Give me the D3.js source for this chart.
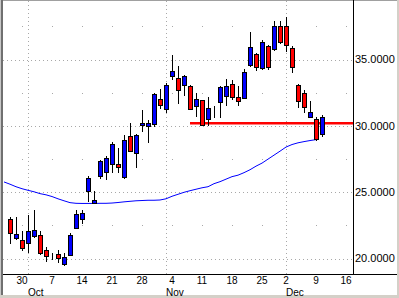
<!DOCTYPE html>
<html>
<head>
<meta charset="utf-8">
<script src="https://cdn.jsdelivr.net/npm/d3@7/dist/d3.min.js"></script>
<style>
  html, body { margin: 0; padding: 0; background: #fff; }
  svg { display: block; }
  text { font-family: "Liberation Sans", Arial, sans-serif; font-size: 11px; fill: #000; }
  text.xlab, text.mlab { font-size: 10px; }
</style>
</head>
<body>
<svg id="chart" width="399" height="298"></svg>
<script>
// daily bars, Sep 26 - Dec 10 2002
var dates = ["2002-09-26","2002-09-27","2002-09-30","2002-10-01","2002-10-02","2002-10-03","2002-10-04",
  "2002-10-07","2002-10-08","2002-10-09","2002-10-10","2002-10-11","2002-10-14","2002-10-15","2002-10-16",
  "2002-10-17","2002-10-18","2002-10-21","2002-10-22","2002-10-23","2002-10-24","2002-10-25","2002-10-28",
  "2002-10-29","2002-10-30","2002-10-31","2002-11-01","2002-11-04","2002-11-05","2002-11-06","2002-11-07",
  "2002-11-08","2002-11-11","2002-11-12","2002-11-13","2002-11-14","2002-11-15","2002-11-18","2002-11-19",
  "2002-11-20","2002-11-21","2002-11-22","2002-11-25","2002-11-26","2002-11-27","2002-11-29","2002-12-02",
  "2002-12-03","2002-12-04","2002-12-05","2002-12-06","2002-12-09","2002-12-10"];
var open  = [22.95,21.57,21.41,21.16,21.66,21.79,20.66,20.13,20.35,19.55,20.30,22.32,22.95,25.09,24.21,
  26.23,26.53,27.11,27.16,26.15,29.23,27.97,30.04,30.01,30.14,32.03,31.25,33.79,33.59,33.07,33.04,
  31.50,31.95,30.49,30.95,31.83,32.28,33.14,32.16,32.09,34.55,35.43,34.35,36.04,35.81,37.50,37.55,
  35.86,33.09,32.46,30.64,30.51,29.38];
var high  = [23.10,23.10,22.04,23.31,23.63,22.04,20.85,20.40,20.61,20.40,21.94,23.63,23.63,26.20,25.07,
  27.39,27.74,28.75,28.34,29.30,30.23,29.38,31.20,30.44,32.50,32.78,33.21,35.36,34.52,33.84,33.06,
  32.46,31.98,32.16,31.50,33.01,33.54,33.46,33.01,34.27,37.07,35.48,36.49,36.11,37.93,37.88,38.21,
  35.99,33.12,32.71,31.90,30.64,30.82];
var low   = [21.06,21.36,20.55,20.40,21.51,20.30,19.77,19.85,19.67,19.47,20.23,22.25,22.57,24.26,24.16,
  25.98,25.90,26.48,26.45,25.98,28.00,26.83,29.55,28.70,29.93,31.25,30.99,33.42,31.65,32.25,31.20,
  30.69,29.98,29.98,30.57,30.57,31.50,31.95,31.50,32.01,34.47,34.17,34.22,34.22,35.61,36.19,35.53,
  34.02,31.32,30.99,30.60,28.87,29.18];
var close = [21.89,21.87,20.80,22.04,22.12,20.43,20.20,20.13,20.02,20.15,21.74,23.38,23.43,26.10,24.44,
  27.32,27.54,28.62,26.86,28.93,28.12,29.30,30.19,30.19,32.41,31.60,33.09,34.15,32.71,33.72,31.25,
  32.01,30.04,31.35,30.95,32.94,33.01,32.21,31.86,34.05,35.94,34.42,36.31,34.40,37.50,36.29,36.07,
  34.42,31.88,31.40,31.02,28.98,30.69];

// moving average, Sep 25 - Dec 9
var maStart = "2002-09-25";
var maValues = [25.77,25.60,25.41,25.26,25.14,25.03,24.89,24.80,24.67,24.50,24.35,24.21,24.16,24.15,
  24.15,24.15,24.16,24.16,24.18,24.22,24.27,24.31,24.35,24.37,24.39,24.39,24.41,24.50,24.69,24.84,
  24.99,25.11,25.22,25.33,25.41,25.64,25.79,25.98,26.17,26.28,26.47,26.69,26.96,27.19,27.49,27.79,
  28.09,28.40,28.59,28.72,28.81,28.89,28.96];

var supportLevel = 30.2;
var supportFrom = "2002-11-07";

var tickDates = ["2002-09-30","2002-10-07","2002-10-14","2002-10-21","2002-10-28","2002-11-04",
  "2002-11-11","2002-11-18","2002-11-25","2002-12-02","2002-12-09","2002-12-16"];
var tickLabels = ["30","7","14","21","28","4","11","18","25","2","9","16"];
var monthDates = ["2002-10-01","2002-11-01","2002-12-02"];
var monthLabels = ["Oct","Nov","Dec"];
var priceTicks = [20, 25, 30, 35];
var halfTicks = [22.5, 27.5, 32.5, 37.5];
var holidays = ["2002-11-28"];

var svg = d3.select("#chart");
var W = 399, H = 298;
var plotL = 3, plotR = 353, plotT = 1, plotB = 274;

// trading calendar -> index (Sep 30 = 0)
var fmt = d3.utcFormat("%Y-%m-%d");
var calendar = d3.utcDay.range(new Date("2002-09-20"), new Date("2002-12-20"))
  .filter(function (d) { return d.getUTCDay() !== 0 && d.getUTCDay() !== 6 && holidays.indexOf(fmt(d)) < 0; })
  .map(fmt);
var base = calendar.indexOf("2002-09-30");
function idx(s) { return calendar.indexOf(s) - base; }

var x = d3.scaleLinear().domain([0, 50]).range([22, 322]);
var y = d3.scaleLinear().domain([20, 35]).range([258.5, 59.5]);
function px(s) { return Math.round(x(idx(s))); }
function py(v) { return Math.round(y(v)); }

// frame
svg.append("rect").attr("x", 0).attr("y", 0).attr("width", W).attr("height", H).attr("fill", "#fff");
svg.append("rect").attr("x", 0).attr("y", 0).attr("width", W).attr("height", 1).attr("fill", "#a0a0a0");
svg.append("rect").attr("x", 0).attr("y", 0).attr("width", 1).attr("height", H).attr("fill", "#c8c8c8");
svg.append("rect").attr("x", 1).attr("y", 0).attr("width", 2).attr("height", H).attr("fill", "#707070");
svg.append("rect").attr("x", W - 2).attr("y", 0).attr("width", 2).attr("height", H).attr("fill", "#d4d0c8");
svg.append("rect").attr("x", 0).attr("y", H - 3).attr("width", W).attr("height", 3).attr("fill", "#d4d0c8");

var plot = svg.append("g");

// grid: dotted major levels and month lines, dots at weekly x for half levels
plot.selectAll(".hgrid").data(priceTicks).enter().append("line")
  .attr("x1", plotL).attr("x2", plotR)
  .attr("y1", function (d) { return py(d) + 0.5; }).attr("y2", function (d) { return py(d) + 0.5; })
  .attr("stroke", "#a8a8a8").attr("stroke-dasharray", "1,3");
plot.selectAll(".vgrid").data(monthDates).enter().append("line")
  .attr("x1", function (d) { return px(d) + 0.5; }).attr("x2", function (d) { return px(d) + 0.5; })
  .attr("y1", plotT).attr("y2", plotB)
  .attr("stroke", "#a8a8a8").attr("stroke-dasharray", "1,3");
var dots = [];
halfTicks.forEach(function (v) {
  tickDates.forEach(function (t) { dots.push({ x: px(t), y: py(v) }); });
});
plot.selectAll(".gdot").data(dots).enter().append("rect")
  .attr("x", function (d) { return d.x; }).attr("y", function (d) { return d.y; })
  .attr("width", 1).attr("height", 1).attr("fill", "#a8a8a8");

// moving average
var maBase = idx(maStart);
var maLine = d3.line()
  .x(function (d, i) { return x(maBase + i); })
  .y(function (d) { return y(d); });
svg.append("clipPath").attr("id", "clip").append("rect")
  .attr("x", plotL).attr("y", plotT).attr("width", plotR - plotL).attr("height", plotB - plotT);
plot.append("path").datum(maValues)
  .attr("clip-path", "url(#clip)")
  .attr("d", maLine).attr("fill", "none").attr("stroke", "#0000ff").attr("stroke-width", 1);

// support line
plot.append("line")
  .attr("x1", px(supportFrom)).attr("x2", plotR)
  .attr("y1", y(supportLevel)).attr("y2", y(supportLevel))
  .attr("stroke", "#ff0000").attr("stroke-width", 2.5);

// candles
var bars = dates.map(function (d, i) {
  return { date: d, o: open[i], h: high[i], l: low[i], c: close[i] };
});
var candle = plot.selectAll(".candle").data(bars).enter().append("g").attr("class", "candle");
candle.append("line")
  .attr("x1", function (d) { return px(d.date) + 0.5; }).attr("x2", function (d) { return px(d.date) + 0.5; })
  .attr("y1", function (d) { return py(d.h); }).attr("y2", function (d) { return py(d.l); })
  .attr("stroke", "#000").attr("stroke-width", 1);
candle.append("rect")
  .attr("x", function (d) { return px(d.date) - 1.5; })
  .attr("y", function (d) { return py(Math.max(d.o, d.c)) + 0.5; })
  .attr("width", 4)
  .attr("height", function (d) { return Math.max(0, py(Math.min(d.o, d.c)) - py(Math.max(d.o, d.c))); })
  .attr("fill", function (d) { return d.c >= d.o ? "#0000ff" : "#ff0000"; })
  .attr("stroke", "#000").attr("stroke-width", 1);

// axes lines
svg.append("line").attr("x1", plotR + 0.5).attr("x2", plotR + 0.5).attr("y1", 0).attr("y2", plotB)
  .attr("stroke", "#000");
svg.append("line").attr("x1", plotL).attr("x2", W - 2).attr("y1", plotB + 0.5).attr("y2", plotB + 0.5)
  .attr("stroke", "#000");

// price labels
svg.selectAll(".ylab").data(priceTicks).enter().append("text")
  .attr("class", "ylab")
  .attr("x", plotR + 2).attr("y", function (d) { return y(d); })
  .attr("dy", "0.36em")
  .text(function (d) { return d3.format(".4f")(d); });

// day labels
svg.selectAll(".xlab").data(tickDates).enter().append("text")
  .attr("class", "xlab")
  .attr("x", function (d) { return px(d); }).attr("y", 284)
  .attr("text-anchor", "middle")
  .text(function (d, i) { return tickLabels[i]; });
svg.selectAll(".mlab").data(monthDates).enter().append("text")
  .attr("class", "mlab")
  .attr("x", function (d) { return px(d); }).attr("y", 295.5)
  .text(function (d, i) { return monthLabels[i]; });
</script>
</body>
</html>
